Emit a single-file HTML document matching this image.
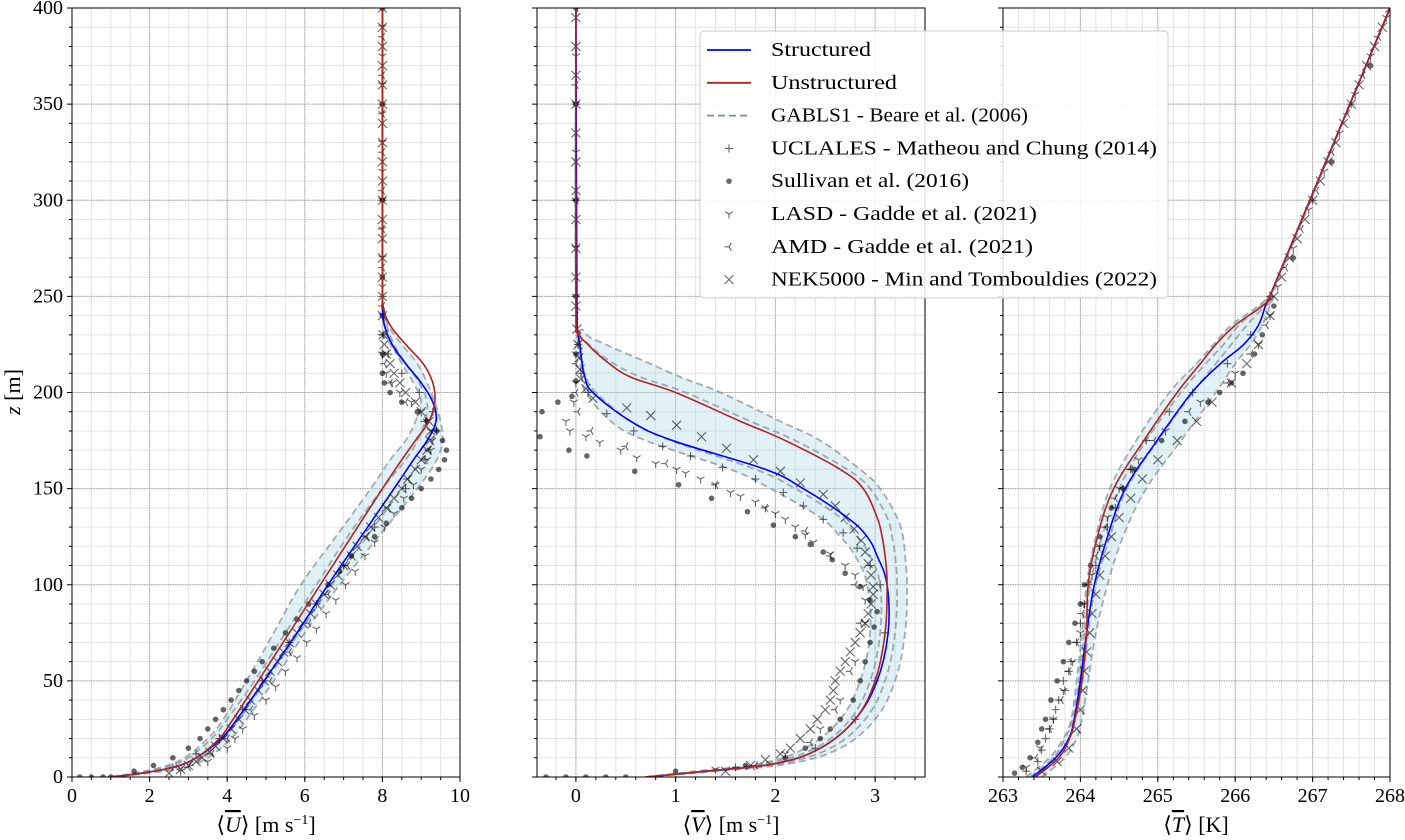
<!DOCTYPE html>
<html><head><meta charset="utf-8"><style>
html,body{margin:0;padding:0;background:#fff;}
svg{display:block;font-family:"Liberation Serif",serif;}
</style></head><body>
<svg id="chart" width="1405" height="840" viewBox="0 0 1405 840" xmlns="http://www.w3.org/2000/svg"></svg>
<script>
// ---------- Panel 1: U ----------
const zL1 = [0,2,5,10,20,30,50,75,100,125,150,165,175,185,195,205,215,225,235,245,260,400];
const U_struct = [1.0,1.8,2.6,3.2,3.85,4.25,4.95,5.8,6.6,7.45,8.3,8.8,9.15,9.38,9.3,9.0,8.6,8.25,8.05,8.0,8.0,8.0];
const U_unstruct = [1.0,1.8,2.6,3.2,3.8,4.15,4.8,5.6,6.4,7.2,8.0,8.5,8.85,9.2,9.35,9.3,9.05,8.6,8.2,8.02,8.0,8.0];
const U_bandLo = [1.0,1.6,2.3,2.9,3.5,3.9,4.5,5.2,5.9,6.8,7.7,8.2,8.6,8.85,9.0,8.8,8.5,8.25,8.05,8.0,8.0,8.0];
const U_bandHi = [1.0,2.0,2.9,3.5,4.1,4.5,5.2,6.0,6.9,7.9,8.9,9.4,9.55,9.5,9.35,9.15,8.9,8.5,8.15,8.02,8.0,8.0];
const U_gabA = [1.0,1.8,2.6,3.3,3.9,4.3,5.0,5.85,6.7,7.6,8.5,9.0,9.3,9.4,9.3,9.0,8.6,8.2,8.05,8.0,8.0,8.0];
const U_gabB = [1.0,1.7,2.4,3.0,3.6,4.0,4.7,5.5,6.3,7.1,8.0,8.6,8.9,9.1,9.15,8.95,8.6,8.3,8.1,8.0,8.0,8.0];
const zU_sul = [0,0,0,0,3,6,10,15,20,25,30,35,40,45,50,55,60,67,75,82,90,100,107,115,125,132,140,145,150,155,160,165,170,175,180,185,190,195,200,205,210,220,240,260,300,350,400];
const U_sul = [0.2,0.5,0.8,1.0,1.6,2.1,2.6,3.0,3.3,3.5,3.7,3.9,4.1,4.3,4.5,4.7,4.9,5.2,5.5,5.8,6.1,6.6,6.9,7.2,7.8,8.1,8.5,8.75,9.0,9.25,9.45,9.6,9.65,9.55,9.4,9.15,8.9,8.5,8.2,8.05,8.0,8.0,8.0,8.0,8.0,8.0,8.0];
const zU_nek = [2,4,6,8,10,13,16,20,25,30,35,40,45,50,55,60,65,70,75,80,85,90,95,100,105,110,115,120,125,130,135,140,145,150,155,160,165,170,175,180,185,190,195,200,205,210,215,220,225,230,240,250,260,270,280,290,300,310,320,330,340,350,360,370,380,390,400];
const U_nek = [2.5,2.8,3.0,3.2,3.35,3.55,3.7,3.9,4.1,4.3,4.45,4.6,4.8,4.95,5.1,5.3,5.45,5.6,5.8,5.95,6.15,6.3,6.5,6.65,6.85,7.0,7.2,7.35,7.55,7.7,7.9,8.1,8.3,8.5,8.65,8.85,9.0,9.15,9.22,9.25,9.2,9.0,8.85,8.6,8.45,8.3,8.2,8.1,8.05,8.02,8.0,8.0,8.0,8.0,8.0,8.0,8.0,8.0,8.0,8.0,8.0,8.0,8.0,8.0,8.0,8.0,8.0];
const zU_lasd = [3,8,15,20,25,32,40,47,55,62,70,77,85,92,100,107,115,122,130,137,145,152,160,165,170,175,180,185,190,195,200,205,210,220,240,255,270,285,300,315,330,345,360,375,390];
const U_lasd = [2.8,3.5,4.0,4.2,4.4,4.7,5.0,5.25,5.5,5.8,6.05,6.3,6.55,6.8,7.05,7.3,7.55,7.8,8.05,8.3,8.55,8.8,9.0,9.15,9.25,9.28,9.25,9.15,9.0,8.75,8.45,8.25,8.1,8.0,8.0,8.0,8.0,8.0,8.0,8.0,8.0,8.0,8.0,8.0,8.0];
const zU_amd = [5,12,20,35,50,65,80,95,110,125,140,155,170,185,195,205,215,230,245,265,285,305,325,345,365,385];
const U_amd = [3.0,3.6,4.0,4.6,5.1,5.6,6.1,6.6,7.1,7.6,8.15,8.65,9.2,9.1,8.6,8.2,8.05,8.0,8.0,8.0,8.0,8.0,8.0,8.0,8.0,8.0];
const zU_ucla = [5,12,20,35,50,70,90,110,130,150,165,180,190,200,210,220,230,250,300,350,400];
const U_ucla = [2.6,3.2,3.8,4.4,4.9,5.6,6.3,7.0,7.8,8.6,9.1,9.4,9.3,8.95,8.5,8.15,8.02,8.0,8.0,8.0,8.0];

// ---------- Panel 2: V ----------
const zL2 = [0,3,7,15,30,50,75,100,115,125,135,150,160,175,185,200,208,216,225,232,250,400];
const V_struct = [0.7,1.3,2.0,2.45,2.8,3.02,3.13,3.12,3.02,2.92,2.72,2.28,1.9,0.97,0.55,0.17,0.09,0.06,0.04,0.02,0.01,0.0];
const V_unstruct = [0.7,1.3,2.0,2.45,2.8,3.0,3.1,3.12,3.1,3.07,3.02,2.88,2.65,2.1,1.65,1.0,0.55,0.31,0.12,0.02,0.0,0.0];
const V_bandLo = [0.7,1.2,1.85,2.3,2.65,2.85,2.95,2.92,2.8,2.65,2.45,1.95,1.55,0.7,0.35,0.1,0.06,0.04,0.02,0.01,0.0,0.0];
const V_bandHi = [0.7,1.4,2.15,2.65,3.0,3.2,3.3,3.32,3.3,3.28,3.22,3.05,2.85,2.45,2.05,1.45,1.05,0.7,0.3,0.08,0.0,0.0];
const V_gabA = [0.7,1.25,1.9,2.4,2.75,2.95,3.05,3.05,2.95,2.82,2.65,2.2,1.8,0.95,0.55,0.2,0.1,0.06,0.03,0.01,0,0];
const V_gabB = [0.7,1.35,2.05,2.55,2.9,3.1,3.2,3.22,3.2,3.17,3.12,2.95,2.72,2.2,1.75,1.1,0.65,0.35,0.13,0.03,0,0];
const zV_sul = [0,0,0,0,0,3,6,10,15,20,25,30,40,50,60,70,78,86,92,99,106,113,117,121,125,131,138,145,152,159,167,170,177,190,195,198,206,220,250,300,350,400];
const V_sul = [-0.3,-0.1,0.1,0.3,0.5,1.0,1.7,2.1,2.3,2.45,2.55,2.65,2.78,2.85,2.9,2.95,2.99,3.02,2.95,2.85,2.7,2.57,2.48,2.35,2.2,1.98,1.72,1.36,1.03,0.59,0.11,-0.07,-0.36,-0.34,-0.18,-0.04,0.0,0.0,0.0,0.0,0.0,0.0];
const zV_nek = [3,6,9,12,15,20,25,30,35,40,45,50,55,60,65,70,75,80,85,90,95,99,105,111,117,123,129,135,141,147,153,159,165,171,177,183,188,192,197,202,207,212,218,225,233,245,260,275,290,305,320,335,350,365,380,395];
const V_nek = [1.5,1.75,1.9,2.05,2.15,2.25,2.35,2.42,2.5,2.55,2.58,2.6,2.65,2.7,2.75,2.8,2.85,2.9,2.93,2.96,2.98,2.98,2.96,2.93,2.9,2.86,2.79,2.7,2.6,2.48,2.25,2.05,1.78,1.51,1.26,1.01,0.75,0.51,0.17,0.1,0.05,0.04,0.03,0.02,0.01,0,0,0,0,0,0,0,0,0,0,0];
const zV_ucla = [5,15,30,50,75,100,110,119,127,134,141,148,155,161,167,172,180,189,200,210,225,250,300,350,400];
const V_ucla = [1.6,2.4,2.8,3.0,3.1,3.05,2.95,2.82,2.68,2.48,2.28,2.08,1.8,1.47,1.15,0.87,0.58,0.31,0.12,0.05,0.02,0,0,0,0];
const zV_lasd = [4,12,25,40,60,80,92,99,105,110,116,122,126,130,134,137,140,143,146,148,152,155,158,160,163,166,170,174,177,180,185,195,205,220,250,275,300,325,350,375,400];
const V_lasd = [1.4,2.1,2.45,2.65,2.8,2.9,2.9,2.88,2.8,2.7,2.55,2.38,2.3,2.2,2.1,2.0,1.9,1.8,1.65,1.55,1.4,1.25,1.1,1.01,0.8,0.61,0.45,0.24,0.1,-0.06,-0.1,-0.02,0.0,0,0,0,0,0,0,0,0];
const zV_amd = [6,18,35,55,80,100,115,128,140,152,163,172,180,190,200,215,240,300,360,400];
const V_amd = [1.8,2.35,2.6,2.75,2.85,2.8,2.55,2.3,1.9,1.4,0.9,0.5,0.15,0.02,0.0,0,0,0,0,0];

// ---------- Panel 3: T ----------
const zL3 = [0,10,20,30,50,75,100,125,150,175,200,215,225,235,245,250,260,400];
const T_struct = [263.38,263.68,263.85,263.92,264.0,264.08,264.18,264.35,264.58,264.99,265.44,265.81,266.11,266.3,266.39,266.45,266.55,268.0];
const T_unstruct = [263.42,263.72,263.86,263.93,264.02,264.08,264.1,264.22,264.43,264.82,265.25,265.55,265.75,266.0,266.35,266.45,266.55,268.0];
const T_bandLo = [263.3,263.6,263.78,263.88,263.95,264.02,264.08,264.2,264.38,264.72,265.15,265.5,265.72,265.95,266.3,266.42,266.55,268.0];
const T_bandHi = [263.5,263.8,263.95,264.02,264.1,264.2,264.35,264.55,264.85,265.3,265.75,266.0,266.2,266.35,266.45,266.5,266.57,268.0];
const T_gabA = [263.4,263.7,263.85,263.93,264.03,264.1,264.2,264.38,264.6,265.0,265.45,265.75,265.95,266.15,266.38,266.46,266.55,268];
const T_gabB = [263.35,263.65,263.8,263.9,263.98,264.05,264.13,264.28,264.5,264.85,265.3,265.62,265.85,266.05,266.33,266.44,266.55,268];
const zT_ucla = [3,8,14,20,25,30,35,40,45,50,55,60,70,80,90,100,110,120,130,140,150,160,175,190,200,215,230,250,300,350,400];
const T_ucla = [263.3,263.45,263.5,263.55,263.6,263.65,263.68,263.72,263.8,263.78,263.85,263.88,263.95,264.0,264.05,264.1,264.2,264.25,264.35,264.45,264.55,264.65,264.85,265.15,265.45,265.9,266.2,266.45,267.0,267.5,268.0];
const zT_sul = [2,5,10,18,25,30,40,50,60,70,80,90,100,110,125,140,150,160,175,185,195,200,205,210,220,230,245,270,320,370];
const T_sul = [263.15,263.25,263.35,263.45,263.5,263.55,263.62,263.7,263.78,263.85,263.93,264.0,264.05,264.13,264.25,264.4,264.55,264.7,265.05,265.35,265.65,265.8,265.95,266.1,266.25,266.35,266.5,266.75,267.25,267.75];
const zT_nek = [3,8,15,25,35,45,55,65,75,85,95,105,115,125,135,145,155,165,175,185,195,205,215,225,240,250,260,270,280,290,300,310,320,330,340,350,360,370,380,390,400];
const T_nek = [263.5,263.7,263.85,263.95,264.0,264.03,264.05,264.08,264.12,264.15,264.2,264.25,264.32,264.4,264.5,264.65,264.8,265.0,265.25,265.5,265.7,265.95,266.15,266.3,266.45,266.5,266.6,266.7,266.8,266.9,267.0,267.1,267.2,267.3,267.4,267.5,267.6,267.7,267.8,267.9,268.0];
const zT_lasd = [5,15,30,45,60,75,90,105,120,135,150,165,180,195,210,225,240,255,275,295,315,335,355,375,395];
const T_lasd = [263.3,263.48,263.65,263.78,263.9,264.0,264.05,264.15,264.25,264.35,264.5,264.75,265.1,265.55,266.0,266.3,266.45,266.55,266.75,266.95,267.15,267.35,267.55,267.75,267.95];
const zT_amd = [10,25,40,55,70,85,100,115,130,145,160,175,190,205,220,235,265,285,305,325,345,365,385];
const T_amd = [263.42,263.6,263.75,263.85,263.95,264.02,264.1,264.2,264.32,264.45,264.65,264.95,265.4,265.9,266.2,266.4,266.65,266.85,267.05,267.25,267.45,267.65,267.85];

const yTicks = [0,50,100,150,200,250,300,350,400];
const xTicks1 = [0,2,4,6,8,10];
const xTicks2 = [0,1,2,3];
const xTicks3 = [263,264,265,266,267,268];

const NS = "http://www.w3.org/2000/svg";
const svg = document.getElementById('chart');
function mk(tag, attrs, parent){ const e=document.createElementNS(NS,tag); for(const k in attrs) e.setAttribute(k,attrs[k]); (parent||svg).appendChild(e); return e; }

const Y0=777, Y1=8;
function yScale(z){ return Y0 + (z-0)/(400-0)*(Y1-Y0); }

const panels = [
 {name:'u-panel', px0:72, px1:460, xmin:0, xmax:10, ticks:xTicks1, minor:0.5},
 {name:'v-panel', px0:537, px1:925, xmin:-0.39, xmax:3.5, ticks:xTicks2, minor:0.2},
 {name:'t-panel', px0:1003, px1:1390, xmin:263, xmax:268, ticks:xTicks3, minor:0.2}
];
panels.forEach(p=>{ p.x = v => p.px0 + (v-p.xmin)/(p.xmax-p.xmin)*(p.px1-p.px0); });

function smoothPath(pts){
  if(pts.length<2) return '';
  let d='M'+pts[0][0].toFixed(2)+','+pts[0][1].toFixed(2);
  for(let i=0;i<pts.length-1;i++){
    const p0=pts[Math.max(0,i-1)], p1=pts[i], p2=pts[i+1], p3=pts[Math.min(pts.length-1,i+2)];
    const t=0.18;
    const c1=[p1[0]+(p2[0]-p0[0])*t, p1[1]+(p2[1]-p0[1])*t];
    const c2=[p2[0]-(p3[0]-p1[0])*t, p2[1]-(p3[1]-p1[1])*t];
    d+=' C'+c1[0].toFixed(2)+','+c1[1].toFixed(2)+' '+c2[0].toFixed(2)+','+c2[1].toFixed(2)+' '+p2[0].toFixed(2)+','+p2[1].toFixed(2);
  }
  return d;
}
function pts(p, zs, vs){ return zs.map((z,i)=>[p.x(vs[i]), yScale(z)]); }

const defs = mk('defs',{});
panels.forEach((p,i)=>{
  const cp = mk('clipPath',{id:'clip'+i},defs);
  mk('rect',{x:p.px0,y:Y1,width:p.px1-p.px0,height:Y0-Y1},cp);
});

function drawPanel(pi, zL, s, u, lo, hi, gA, gB, markers){
  const p=panels[pi];
  const g=mk('g',{});
  
  
  for(let v=Math.ceil(p.xmin/p.minor)*p.minor; v<=p.xmax+1e-9; v+=p.minor){
    const X=p.x(v);
    const l=mk('line',{x1:X,x2:X,y1:Y1,y2:Y0,stroke:'#e3e3e3','stroke-width':1},g);
    
    
  }
  for(let z=0; z<=400; z+=10){
    const Y=yScale(z);
    const l=mk('line',{x1:p.px0,x2:p.px1,y1:Y,y2:Y,stroke:'#e3e3e3','stroke-width':1},g);
    
    
  }
  p.ticks.forEach(v=>{
    const X=p.x(v);
    const l=mk('line',{x1:X,x2:X,y1:Y1,y2:Y0,stroke:'#9a9a9a','stroke-width':1,'stroke-dasharray':'1.2,1.2'},g);
    
    
  });
  yTicks.forEach(z=>{
    const Y=yScale(z);
    const l=mk('line',{x1:p.px0,x2:p.px1,y1:Y,y2:Y,stroke:'#9a9a9a','stroke-width':1,'stroke-dasharray':'1.2,1.2'},g);
    
    
  });
  const c=mk('g',{'clip-path':'url(#clip'+pi+')'},g);
  const pl=pts(p,zL,lo), ph=pts(p,zL,hi).reverse();
  const band=mk('path',{d:smoothPath(pl)+' L'+smoothPath(ph).slice(1)+' Z',fill:'#add8e6','fill-opacity':0.35,stroke:'none'},c);
  
  
  [lo,hi,gA,gB].forEach(arr=>{
    const d=mk('path',{d:smoothPath(pts(p,zL,arr)),fill:'none',stroke:'#7f8c93','stroke-opacity':0.7,'stroke-width':1.8,'stroke-dasharray':'7,4'},c);
    
    
  });
  markers.forEach(m=>{
    const mg=mk('g',{stroke:'rgba(0,0,0,0.6)',fill:'rgba(0,0,0,0.6)','stroke-width':1.1},c);
    
    
    m.z.forEach((z,i)=>{ drawMarker(mg, m.type, p.x(m.v[i]), yScale(z)); });
  });
  const sl=mk('path',{d:smoothPath(pts(p,zL,s)),fill:'none',stroke:'#0000ff','stroke-width':1.6},c);
  
  
  const ul=mk('path',{d:smoothPath(pts(p,zL,u)),fill:'none',stroke:'#b22222','stroke-width':1.6},c);
  
  
  const fr=mk('rect',{x:p.px0,y:Y1,width:p.px1-p.px0,height:Y0-Y1,fill:'none',stroke:'#000','stroke-width':1},g);
  
  
  p.ticks.forEach(v=>{
    const X=p.x(v);
    mk('line',{x1:X,x2:X,y1:Y0,y2:Y0+5,stroke:'#000'},g);
    const t=mk('text',{x:X,y:Y0+25,'text-anchor':'middle','font-size':20},g);
    t.textContent=String(v);
    
    
  });
  for(let v=Math.ceil(p.xmin/p.minor)*p.minor; v<=p.xmax+1e-9; v+=p.minor){
    const X=p.x(v);
    mk('line',{x1:X,x2:X,y1:Y0,y2:Y0+3,stroke:'#000'},g);
  }
  for(let z=0; z<=400; z+=10){
    const Y=yScale(z);
    mk('line',{x1:p.px0,x2:p.px0-(z%50===0?5:3),y1:Y,y2:Y,stroke:'#000'},g);
  }
  if(pi===0){
    yTicks.forEach(z=>{
      const t=mk('text',{x:p.px0-9,y:yScale(z)+6,'text-anchor':'end','font-size':20},g);
      t.textContent=String(z);
      
      
    });
  }
  return g;
}
function drawMarker(g,type,x,y){
  if(type==='dot'){ mk('circle',{cx:x,cy:y,r:2.8,stroke:'none'},g); }
  else if(type==='plus'){ mk('path',{d:`M${x-4},${y}H${x+4}M${x},${y-4}V${y+4}`,fill:'none'},g); }
  else if(type==='x'){ mk('path',{d:`M${x-4.5},${y-4.5}L${x+4.5},${y+4.5}M${x-4.5},${y+4.5}L${x+4.5},${y-4.5}`,fill:'none'},g); }
  else if(type==='tri_down'){ mk('path',{d:`M${x},${y}V${y+4.5}M${x},${y}L${x-3.9},${y-2.3}M${x},${y}L${x+3.9},${y-2.3}`,fill:'none'},g); }
  else if(type==='tri_left'){ mk('path',{d:`M${x},${y}H${x-4.5}M${x},${y}L${x+2.3},${y-3.9}M${x},${y}L${x+2.3},${y+3.9}`,fill:'none'},g); }
}

drawPanel(0,zL1,U_struct,U_unstruct,U_bandLo,U_bandHi,U_gabA,U_gabB,[
 {name:'uclales-markers',type:'plus',z:zU_ucla,v:U_ucla},
 {name:'sullivan-markers',type:'dot',z:zU_sul,v:U_sul},
 {name:'lasd-markers',type:'tri_down',z:zU_lasd,v:U_lasd},
 {name:'amd-markers',type:'tri_left',z:zU_amd,v:U_amd},
 {name:'nek5000-markers',type:'x',z:zU_nek,v:U_nek}]);
drawPanel(1,zL2,V_struct,V_unstruct,V_bandLo,V_bandHi,V_gabA,V_gabB,[
 {name:'uclales-markers',type:'plus',z:zV_ucla,v:V_ucla},
 {name:'sullivan-markers',type:'dot',z:zV_sul,v:V_sul},
 {name:'lasd-markers',type:'tri_down',z:zV_lasd,v:V_lasd},
 {name:'amd-markers',type:'tri_left',z:zV_amd,v:V_amd},
 {name:'nek5000-markers',type:'x',z:zV_nek,v:V_nek}]);
drawPanel(2,zL3,T_struct,T_unstruct,T_bandLo,T_bandHi,T_gabA,T_gabB,[
 {name:'uclales-markers',type:'plus',z:zT_ucla,v:T_ucla},
 {name:'sullivan-markers',type:'dot',z:zT_sul,v:T_sul},
 {name:'lasd-markers',type:'tri_down',z:zT_lasd,v:T_lasd},
 {name:'amd-markers',type:'tri_left',z:zT_amd,v:T_amd},
 {name:'nek5000-markers',type:'x',z:zT_nek,v:T_nek}]);

function xTitle(cx, sym, unitHTML, name){
  const t=mk('text',{x:cx,y:832,'text-anchor':'middle','font-size':22});
  
  
  t.innerHTML='⟨<tspan font-style="italic" text-decoration="overline" style="text-decoration:overline">'+sym+'</tspan>⟩ '+unitHTML;
}
xTitle(266,'U','[m s<tspan font-size="14" dy="-8">−1</tspan><tspan dy="8">]</tspan>','u-axis-title');
xTitle(731,'V','[m s<tspan font-size="14" dy="-8">−1</tspan><tspan dy="8">]</tspan>','v-axis-title');
xTitle(1196,'T','[K]','t-axis-title');
const yt=mk('text',{x:0,y:0,'text-anchor':'middle','font-size':22,transform:'translate(20,392) rotate(-90)'});


yt.innerHTML='<tspan font-style="italic">z</tspan> [m]';

const lg=mk('g',{});


mk('rect',{x:700,y:31,width:468,height:267,rx:4,fill:'#fff','fill-opacity':0.85,stroke:'#cccccc'},lg);
const entries=[
 ['Structured','line','#0000ff',100],['Unstructured','line','#b22222',126],['GABLS1 - Beare et al. (2006)','dash','#7f8c93',257],
 ['UCLALES - Matheou and Chung (2014)','plus',null,386],['Sullivan et al. (2016)','dot',null,198],['LASD - Gadde et al. (2021)','tri_down',null,266],
 ['AMD - Gadde et al. (2021)','tri_left',null,262],['NEK5000 - Min and Tombouldies (2022)','x',null,386]];
entries.forEach((e,i)=>{
  const y=50+i*32.8;
  const eg=mk('g',{stroke:'rgba(0,0,0,0.6)',fill:'rgba(0,0,0,0.6)','stroke-width':1.1},lg);
  
  
  if(e[1]==='line') mk('line',{x1:707,x2:751,y1:y,y2:y,stroke:e[2],'stroke-width':1.8},eg);
  else if(e[1]==='dash') mk('line',{x1:707,x2:751,y1:y,y2:y,stroke:e[2],'stroke-width':1.8,'stroke-dasharray':'7,4'},eg);
  else drawMarker(eg,e[1],729,y);
  const t=mk('text',{x:771,y:y+6,'font-size':20,fill:'#000',stroke:'none',textLength:e[3],lengthAdjust:'spacingAndGlyphs'},eg);
  t.textContent=e[0];
});
</script>
</body></html>
